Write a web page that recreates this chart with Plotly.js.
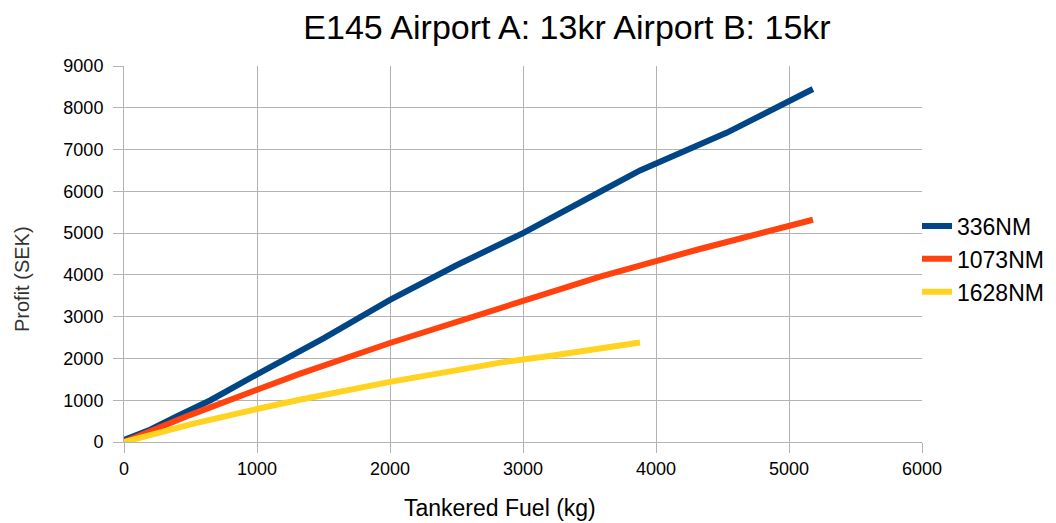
<!DOCTYPE html>
<html><head><meta charset="utf-8">
<script src="https://cdn.plot.ly/plotly-3.0.1.min.js"></script>
<style>html,body{margin:0;padding:0;background:#fff}#chart{width:1056px;height:523px}</style>
</head><body><div id="chart"></div>
<script>
const seriesNames = ["336NM", "1073NM", "1628NM"];
const x336 = [0, 100, 200, 400, 650, 1000, 1225, 1500, 2000, 2260, 2500, 3000, 3200, 3580, 3880, 4000, 4530, 5180];
const y336 = [50, 170, 300, 620, 1000, 1620, 2000, 2480, 3400, 3840, 4230, 5000, 5330, 5990, 6500, 6660, 7400, 8450];
const x1073 = [0, 200, 500, 1000, 1320, 2000, 2260, 2830, 3200, 3580, 4330, 5180];
const y1073 = [0, 260, 650, 1250, 1630, 2370, 2630, 3200, 3570, 3960, 4620, 5320];
const x1628 = [0, 200, 500, 1000, 1320, 2000, 2260, 2830, 3200, 3880];
const y1628 = [0, 170, 420, 790, 1010, 1440, 1580, 1900, 2060, 2380];
const xTitle = "Tankered Fuel (kg)";
const yTitle = "Profit (SEK)";
const colors = ["#004586", "#ff420e", "#ffd320"];
const xs = [x336, x1073, x1628], ys = [y336, y1073, y1628];
const traces = seriesNames.map((n, i) => ({
  x: xs[i], y: ys[i], name: n, type: "scatter", mode: "lines",
  line: {color: colors[i], width: 6}
}));
const layout = {
  width: 1056, height: 523,
  margin: {l: 124, r: 0, t: 66, b: 81},
  paper_bgcolor: "#fff", plot_bgcolor: "#fff",
  font: {family: "Liberation Sans, Arial, sans-serif", color: "#000"},
  title: {text: "E145 Airport A: 13kr Airport B: 15kr", x: 567/1056, xref: "container", xanchor: "center", y: 1 - 27/523, yref: "container", yanchor: "middle", font: {size: 34, color: "#000"}},
  xaxis: {domain: [0, 798/932], range: [0, 6000], dtick: 1000, showgrid: true, gridcolor: "#b3b3b3", zeroline: false,
    showline: true, linecolor: "#b3b3b3", ticks: "outside", ticklen: 10, tickcolor: "#b3b3b3",
    tickfont: {size: 18}},
  yaxis: {range: [0, 9000], dtick: 1000, showgrid: true, gridcolor: "#b3b3b3", zeroline: false,
    showline: true, linecolor: "#b3b3b3", ticks: "outside", ticklen: 10, tickcolor: "#b3b3b3",
    ticklabelstandoff: 6, tickfont: {size: 18}},
  annotations: [
    {text: xTitle, xref: "paper", yref: "paper", x: (500-124)/932, y: -(508-442)/376, xanchor: "center", yanchor: "middle", showarrow: false, font: {size: 23, color: "#000"}},
    {text: yTitle, xref: "paper", yref: "paper", x: -(124-22)/932, y: (442-279)/376, xanchor: "center", yanchor: "middle", textangle: -90, showarrow: false, font: {size: 20, color: "#333"}}
  ],
  legend: {x: (917-124)/932, xref: "paper", xanchor: "left", y: (442-259)/376, yanchor: "middle", font: {size: 23}, itemwidth: 30, tracegroupgap: 0, bgcolor: "rgba(0,0,0,0)"},
  showlegend: true
};
Plotly.newPlot("chart", traces, layout, {displayModeBar: false, staticPlot: true});
</script></body></html>
